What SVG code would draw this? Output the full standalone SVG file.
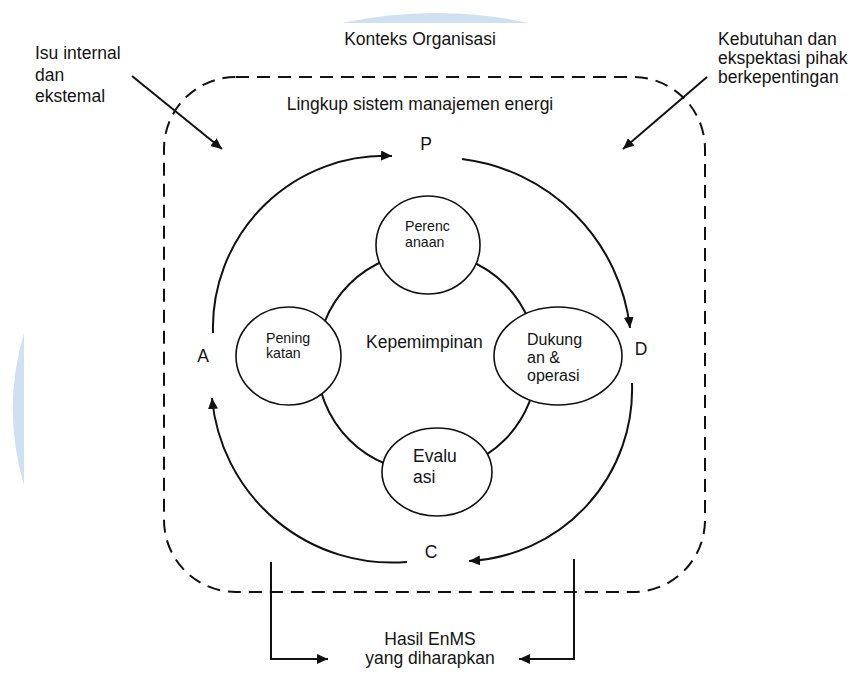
<svg xmlns="http://www.w3.org/2000/svg" width="853" height="675" viewBox="0 0 853 675">
<style>
  text { font-family: "Liberation Sans", Arial, sans-serif; fill: #141414; }
  .t { font-size: 17.5px; }
  .s { font-size: 14.2px; }
  .m { font-size: 16px; }
  .ln { fill: none; stroke: #111; stroke-width: 2; }
  .node { fill: #fff; stroke: #111; stroke-width: 1.6; }
  .wm { fill: #cfe0f0; stroke: none; }
</style>
<defs>
  <marker id="ah" markerUnits="userSpaceOnUse" markerWidth="12" markerHeight="10" refX="11" refY="5" orient="auto">
    <path d="M0,0 L11,5 L0,10 z" fill="#111"/>
  </marker>
</defs>
<rect width="853" height="675" fill="#fff"/>
<g id="watermark">
  <path class="wm" d="M342 23 A442 442 0 0 1 529 23 Z"/>
  <path class="wm" d="M24 333 A268 268 0 0 0 24 485 Z"/>
</g>
<g id="scope">
  <rect x="164" y="77" width="541" height="515" rx="72" ry="72" fill="none" stroke="#111" stroke-width="2" stroke-dasharray="13 8"/>
</g>
<g id="labels">
  <text class="t" x="35" y="59">Isu internal</text>
  <text class="t" x="35" y="81">dan</text>
  <text class="t" x="35" y="102">ekstemal</text>
  <text class="t" x="420" y="45" text-anchor="middle">Konteks Organisasi</text>
  <text class="t" x="718" y="45">Kebutuhan dan</text>
  <text class="t" x="718" y="64">ekspektasi pihak</text>
  <text class="t" x="718" y="83">berkepentingan</text>
  <text class="t" x="420" y="110" text-anchor="middle">Lingkup sistem manajemen energi</text>
  <text class="t" x="426" y="150" text-anchor="middle">P</text>
  <text class="t" x="641" y="355" text-anchor="middle">D</text>
  <text class="t" x="203" y="362" text-anchor="middle">A</text>
  <text class="t" x="431" y="558" text-anchor="middle">C</text>
  <text class="t" x="430" y="645" text-anchor="middle">Hasil EnMS</text>
  <text class="t" x="430" y="664" text-anchor="middle">yang diharapkan</text>
</g>
<g id="connectors">
  <line class="ln" x1="132" y1="76" x2="222" y2="149" marker-end="url(#ah)"/>
  <line class="ln" x1="707" y1="77" x2="623" y2="149" marker-end="url(#ah)"/>
  <path class="ln" d="M213 333 A172 172 0 0 1 392 156" marker-end="url(#ah)"/>
  <path class="ln" d="M462 159 A193 193 0 0 1 630 328" marker-end="url(#ah)"/>
  <path class="ln" d="M632 383 A172 172 0 0 1 469 561" marker-end="url(#ah)"/>
  <path class="ln" d="M407 562 A181 181 0 0 1 212 398" marker-end="url(#ah)"/>
  <polyline class="ln" points="271,562 271,659 328,659" marker-end="url(#ah)"/>
  <polyline class="ln" points="574,559 574,659 519,659" marker-end="url(#ah)"/>
</g>
<g id="kepemimpinan">
  <circle cx="427" cy="362" r="110" fill="none" stroke="#111" stroke-width="2"/>
  <text class="t" x="366" y="348">Kepemimpinan</text>
</g>
<g id="perencanaan">
  <ellipse class="node" cx="428" cy="245" rx="52" ry="49"/>
  <text class="s" x="405" y="231">Perenc</text>
  <text class="s" x="405" y="247">anaan</text>
</g>
<g id="peningkatan">
  <ellipse class="node" cx="288.5" cy="356" rx="52.5" ry="49"/>
  <text class="s" x="266" y="343">Pening</text>
  <text class="s" x="266" y="358">katan</text>
</g>
<g id="dukungan">
  <ellipse class="node" cx="558" cy="356" rx="64" ry="49"/>
  <text class="m" x="527" y="345">Dukung</text>
  <text class="m" x="527" y="363">an &amp;</text>
  <text class="m" x="527" y="381">operasi</text>
</g>
<g id="evaluasi">
  <ellipse class="node" cx="437" cy="472" rx="55" ry="44"/>
  <text class="t" x="413" y="462">Evalu</text>
  <text class="t" x="413" y="483">asi</text>
</g>
</svg>
